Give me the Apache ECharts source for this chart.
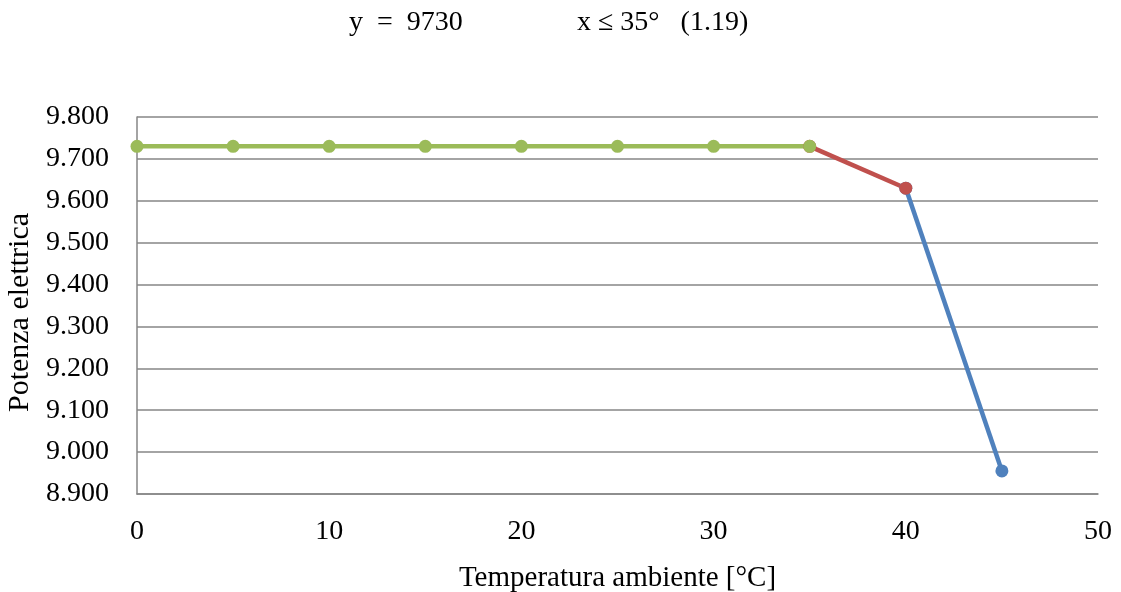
<!DOCTYPE html>
<html>
<head>
<meta charset="utf-8">
<script src="https://cdn.jsdelivr.net/npm/echarts@6/dist/echarts.min.js"></script>
<style>
  html, body { margin: 0; padding: 0; background: #ffffff; }
  #chart { width: 1121px; height: 592px; }
</style>
</head>
<body>
<div id="chart"></div>
<script>
// Electric power vs ambient temperature, three segments of the curve
const flatSeg = [[0, 9730], [5, 9730], [10, 9730], [15, 9730], [20, 9730], [25, 9730], [30, 9730], [35, 9730]];
const midSeg = [[35, 9730], [40, 9630]];
const steepSeg = [[40, 9630], [45, 8955]];

const xTicks = { min: 0, max: 50, step: 10 };
const yTicks = { min: 8900, max: 9800, step: 100 };

const formulaLeft = 'y  =  9730';
const formulaRight = 'x \u2264 35\u00b0   (1.19)';
const xTitle = 'Temperatura ambiente [\u00b0C]';
const yTitle = 'Potenza elettrica';

const serif = '"Liberation Serif", "DejaVu Serif", serif';
const green = '#9BBB59', red = '#C0504D', blue = '#4F81BD';

function fmtThousands(v) {
  return String(v).replace(/\B(?=(\d{3})+(?!\d))/g, '.');
}

function segment(data, color) {
  return {
    type: 'line',
    data: data,
    symbol: 'circle',
    symbolSize: 13,
    lineStyle: { color: color, width: 4.5 },
    itemStyle: { color: color },
    animation: false
  };
}

const chart = echarts.init(document.getElementById('chart'), null, { renderer: 'canvas' });
chart.setOption({
  backgroundColor: '#ffffff',
  graphic: [
    { type: 'text', left: 349, top: 9, style: { text: formulaLeft, font: '28px ' + serif, fill: '#000' } },
    { type: 'text', left: 577, top: 9, style: { text: formulaRight, font: '28px ' + serif, fill: '#000' } }
  ],
  grid: { left: 137, right: 23, top: 117, bottom: 98, containLabel: false, outerBoundsMode: 'none' },
  xAxis: {
    type: 'value',
    min: xTicks.min, max: xTicks.max, interval: xTicks.step,
    name: xTitle, nameLocation: 'middle', nameGap: 70,
    nameTextStyle: { fontFamily: serif, fontSize: 29, color: '#000' },
    axisLine: { show: true, lineStyle: { color: '#868686', width: 1.5 } },
    axisTick: { show: false },
    axisLabel: { margin: 24, fontFamily: serif, fontSize: 28, color: '#000' },
    splitLine: { show: false }
  },
  yAxis: {
    type: 'value',
    min: yTicks.min, max: yTicks.max, interval: yTicks.step,
    name: yTitle, nameLocation: 'middle', nameGap: 94,
    nameTextStyle: { fontFamily: serif, fontSize: 30, color: '#000', padding: [0, 14, 0, 0] },
    axisLine: { show: true, lineStyle: { color: '#868686', width: 1.5 } },
    axisTick: { show: false },
    axisLabel: { margin: 28, fontFamily: serif, fontSize: 28, color: '#000', formatter: fmtThousands },
    splitLine: { show: true, lineStyle: { color: '#868686', width: 1.5 } }
  },
  series: [
    segment(steepSeg, blue),
    segment(midSeg, red),
    segment(flatSeg, green)
  ]
});
</script>
</body>
</html>
